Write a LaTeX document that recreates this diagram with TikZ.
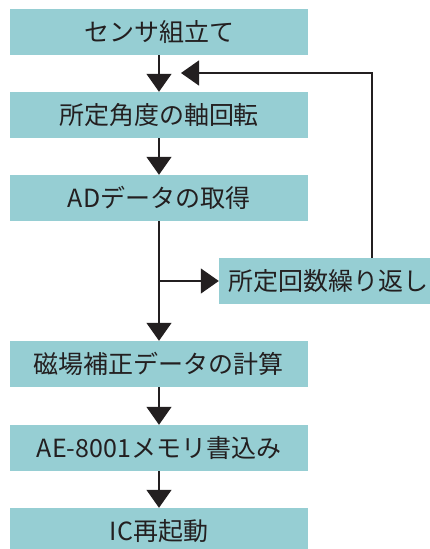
\documentclass[tikz,border=0pt]{standalone}
\usepackage{fontspec}
\setmainfont{Noto Sans CJK JP}
\usepackage{xcolor}
\usetikzlibrary{arrows.meta}
\definecolor{boxfill}{HTML}{96CED3}
\definecolor{ink}{HTML}{231F20}
\tikzset{
  stepbox/.style={fill=boxfill, text=ink, inner sep=0pt, minimum height=46pt,
    font=\fontsize{25}{29}\selectfont},
  flow/.style={draw=ink, line width=1.3pt, -{Triangle[width=25pt,length=18pt]}, ink}
}

\begin{document}
\begin{tikzpicture}[x=1pt,y=-1pt]
\useasboundingbox (0,0) rectangle (430,549);
\node [stepbox, minimum width=298pt] (v0) at (159,32) {センサ組立て};
\node [stepbox, minimum width=298pt] (v1) at (159,115) {所定角度の軸回転};
\node [stepbox, minimum width=298pt] (v2) at (159,198) {ADデータの取得};
\node [stepbox, minimum width=219pt] (v3) at (328.5,281) {所定回数繰り返し};
\node [stepbox, minimum width=298pt] (v4) at (159,364) {磁場補正データの計算};
\node [stepbox, minimum width=298pt] (v5) at (159,448) {AE-8001メモリ書込み};
\node [stepbox, minimum width=298pt] (v6) at (159,531) {IC再起動};
\coordinate (c0) at (372,73);
\coordinate (t0) at (181,73);
\coordinate (b0) at (159,281);
\draw [flow] (v0) edge (v1);
\draw [flow] (v1) edge (v2);
\draw [flow] (v2) edge (v4);
\draw [flow] (v4) edge (v5);
\draw [flow] (v5) edge (v6);
\draw [flow] (b0) -- (v3.west);
\draw [flow] (c0 |- v3.north) -- (c0) -- (t0);
\end{tikzpicture}
\end{document}
